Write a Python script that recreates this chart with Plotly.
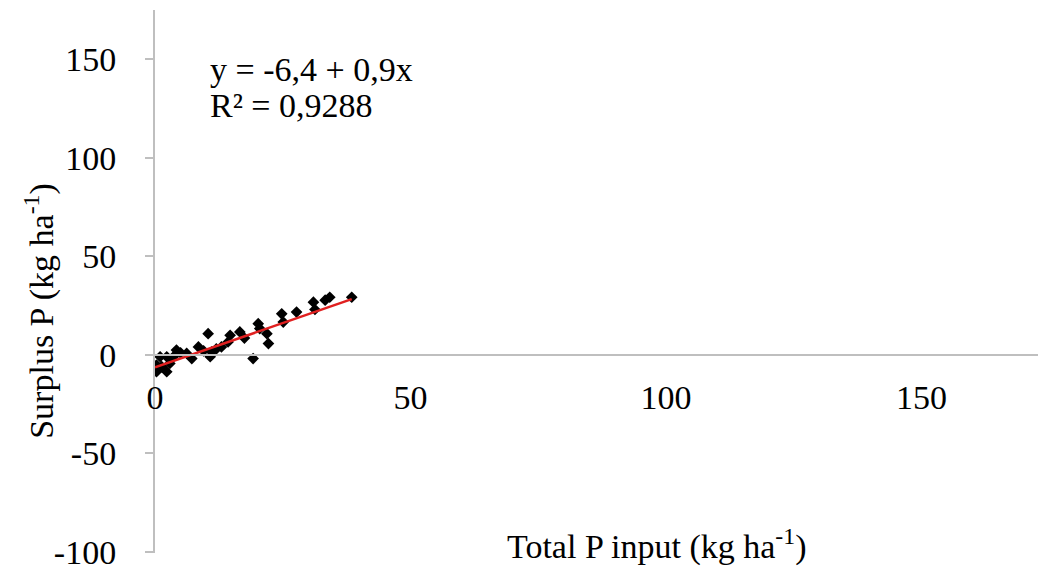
import plotly.graph_objects as go

# Data
total_p_input = [38.5, 34.2, 33.3, 31.0, 31.3, 27.7, 24.8, 25.1, 20.2, 20.5,
                 21.9, 22.2, 16.6, 14.7, 14.3, 13.0, 10.4, 10.8, 11.1, 8.5,
                 7.2, 6.2, 4.2, 3.6, 2.3, 1.0, 0.3, 2.3, 0.3, 1.3, 2.9, 19.2,
                 5.0, 12.0, 17.5, 9.5]
surplus_p = [29.2, 29.2, 27.7, 26.7, 23.0, 21.7, 20.8, 16.6, 15.8, 13.3,
             10.7, 5.7, 11.6, 9.9, 6.5, 4.0, 10.7, -1.0, 1.5, 4.0,
             -1.9, 0.7, 2.4, -1.0, -1.0, -1.0, -5.2, -8.6, -8.6, -6.0, -4.4, -1.9,
             1.0, 3.0, 8.5, 2.0]

intercept = -6.4
slope = 0.9
fit_x = [0.0, 38.5]
fit_y = [intercept + slope * v for v in fit_x]

x_ticks = [0, 50, 100, 150]
x_tick_labels = ["0", "50", "100", "150"]
y_ticks = [-100, -50, 0, 50, 100, 150]
y_tick_labels = ["-100", "-50", "0", "50", "100", "150"]

FONT = "Liberation Serif"
fs = 34

fig = go.Figure()
fig.add_trace(go.Scatter(x=total_p_input, y=surplus_p, mode="markers",
                         marker=dict(symbol="diamond", size=9, color="black"),
                         showlegend=False))
fig.add_trace(go.Scatter(x=fit_x, y=fit_y, mode="lines",
                         line=dict(color="#E02020", width=2.5),
                         showlegend=False))

y_min, y_max = -100.6, 175
zero_frac = (0 - y_min) / (y_max - y_min)

fig.update_layout(
    width=1038, height=571,
    margin=dict(l=155, r=0, t=10, b=14),
    paper_bgcolor="white", plot_bgcolor="white",
    font=dict(family=FONT, size=fs, color="black"),
    xaxis=dict(range=[0, 172.8], tickvals=x_ticks, ticktext=x_tick_labels,
               showgrid=False,
               zeroline=False, showline=True, linecolor="#BFBFBF", linewidth=2,
               anchor="free", position=zero_frac, ticks="",
               ticklabelstandoff=12, ticklabeloverflow="allow",
               tickfont=dict(family=FONT, size=fs, color="black")),
    yaxis=dict(range=[y_min, y_max], tickvals=y_ticks, ticktext=y_tick_labels,
               showgrid=False,
               zeroline=False, showline=True, linecolor="#BFBFBF", linewidth=2,
               ticks="outside", ticklen=8, tickcolor="#BFBFBF", tickwidth=2,
               ticklabelstandoff=22, ticklabeloverflow="allow",
               tickfont=dict(family=FONT, size=fs, color="black")),
    annotations=[
        dict(text="y = -6,4 + 0,9x", xref="paper", yref="paper",
             x=(208 - 155) / 883, y=(571 - 14 - 70) / 547, xanchor="left", yanchor="middle",
             showarrow=False, font=dict(family=FONT, size=fs)),
        dict(text="R² = 0,9288", xref="paper", yref="paper",
             x=(208 - 155) / 883, y=(571 - 14 - 106) / 547, xanchor="left", yanchor="middle",
             showarrow=False, font=dict(family=FONT, size=fs)),
        dict(text="Total P input (kg ha<sup>-1</sup>)", xref="paper", yref="paper",
             x=(657 - 155) / 883, y=(571 - 14 - 548) / 547, xanchor="center", yanchor="middle",
             showarrow=False, font=dict(family=FONT, size=fs)),
        dict(text="Surplus P (kg ha<sup>-1</sup>)", xref="paper", yref="paper",
             x=(40 - 155) / 883, y=(571 - 14 - 313) / 547, xanchor="center", yanchor="middle",
             textangle=-90, showarrow=False, font=dict(family=FONT, size=fs)),
    ],
)

fig.write_html("out.html")
